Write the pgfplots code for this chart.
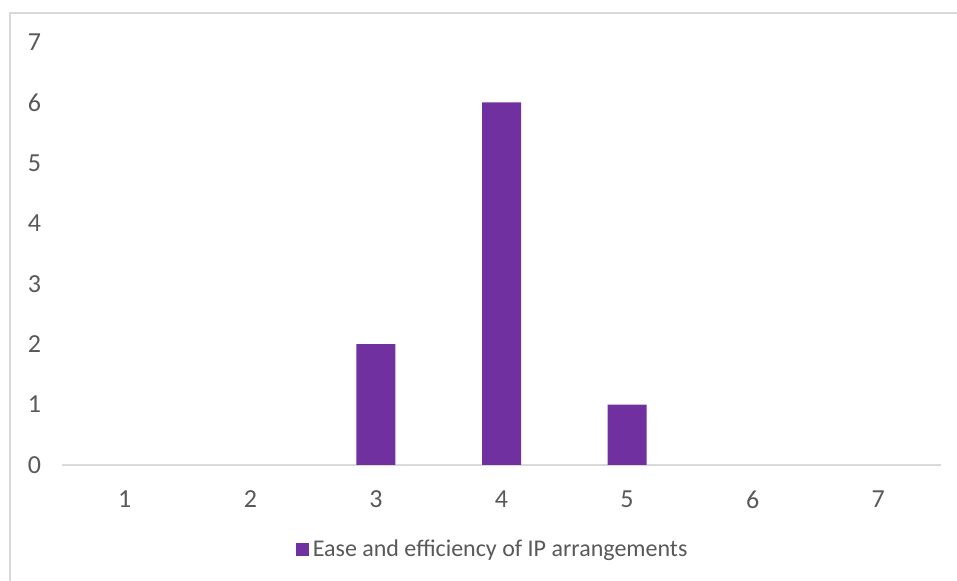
\documentclass[border=0pt]{standalone}
\usepackage{pgfplots}
\pgfplotsset{compat=1.18}
\usepackage{fontspec}
\setmainfont{Carlito}
\definecolor{barpurple}{HTML}{7030A0}
\definecolor{txtgray}{HTML}{595959}
\definecolor{axgray}{HTML}{D9D9D9}
\begin{document}
\begin{tikzpicture}
\path[use as bounding box] (0,0) rectangle (478.5pt,290.5pt);
\draw[axgray, line width=1pt] (5pt,0) -- (5pt,284pt) -- (478.5pt,284pt);
\begin{axis}[
  at={(31pt,58pt)}, anchor=south west,
  scale only axis,
  width=439.5pt, height=211.5pt,
  xmin=0.5, xmax=7.5, ymin=0, ymax=7,
  axis line style={draw=none},
  ybar, bar width=19.5pt,
  xtick={1,...,7}, ytick={0,...,7},
  tick style={draw=none},
  /pgf/number format/assume math mode=true,
  ticklabel style={font=\fontsize{13}{15}\selectfont, text=txtgray},
  yticklabel style={xshift=-7pt},
  xticklabel style={yshift=-5pt},
  legend style={at={(0.491,-0.2)}, anchor=center, draw=none,
    font=\fontsize{12}{14}\selectfont, text=txtgray, inner sep=0pt},
  legend image code/.code={\fill[#1] (0,-3.25pt) rectangle (6.5pt,3.25pt);},
  legend cell align=left,
  clip=false,
  unbounded coords=discard,
]
\draw[axgray, line width=1pt] (axis cs:0.5,0) -- (axis cs:7.5,0);
\addplot[fill=barpurple, draw=none, bar shift=0pt,
  y filter/.expression={y==0 ? nan : y}] coordinates {(1,0) (2,0) (3,2) (4,6) (5,1) (6,0) (7,0)};
\addlegendentry{Ease and efficiency of IP arrangements}
\end{axis}
\end{tikzpicture}
\end{document}
